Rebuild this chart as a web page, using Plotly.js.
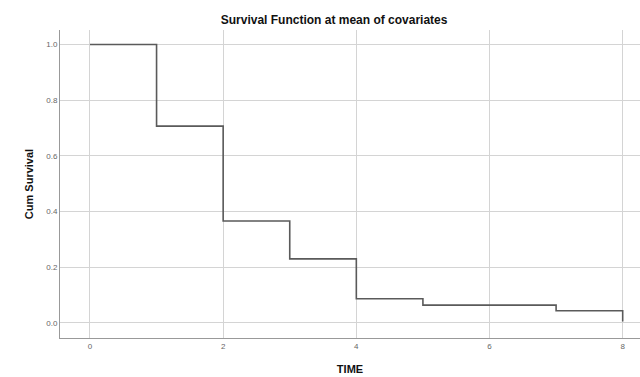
<!DOCTYPE html>
<html>
<head>
<meta charset="utf-8">
<script src="https://cdn.plot.ly/plotly-3.0.1.min.js"></script>
<style>html,body{margin:0;padding:0;background:#fff;}#chart{width:640px;height:377px;}</style>
</head>
<body>
<div id="chart"></div>
<script>
var times = [0, 1, 2, 3, 4, 5, 7, 8, 8];
var cumSurvival = [1.0, 0.707, 0.366, 0.23, 0.087, 0.064, 0.044, 0.044, 0.005];
var xTicks = [0, 2, 4, 6, 8];
var yTicks = [0.0, 0.2, 0.4, 0.6, 0.8, 1.0];

var trace = {
  x: times, y: cumSurvival, type: 'scatter', mode: 'lines',
  line: {shape: 'hv', color: '#5a5a5a', width: 1.6},
  hoverinfo: 'skip'
};
var layout = {
  width: 640, height: 377,
  margin: {l: 60, r: 0, t: 30, b: 39},
  paper_bgcolor: '#fff', plot_bgcolor: '#fff',
  showlegend: false,
  title: {text: 'Survival Function at mean of covariates', x: 0.522, xanchor: 'center', y: 0.947, yanchor: 'middle',
          font: {family: 'Liberation Sans, Arial, sans-serif', size: 12, color: '#111', weight: 'bold'}},
  xaxis: {
    range: [-0.45, 8.26], tickvals: xTicks, ticktext: xTicks.map(String),
    showgrid: true, gridcolor: '#d4d4d4', gridwidth: 1,
    showline: true, linecolor: '#999', linewidth: 1, zeroline: false,
    ticks: '', tickfont: {family: 'Liberation Sans, Arial, sans-serif', size: 8, color: '#666'},
    title: {text: 'TIME', standoff: 15, font: {family: 'Liberation Sans, Arial, sans-serif', size: 11, color: '#111', weight: 'bold'}}
  },
  yaxis: {
    range: [-0.054, 1.052], tickvals: yTicks, ticktext: yTicks.map(function(v){return v.toFixed(1);}),
    showgrid: true, gridcolor: '#d4d4d4', gridwidth: 1,
    showline: true, linecolor: '#999', linewidth: 1, zeroline: false,
    ticks: '', ticklen: 0, tickfont: {family: 'Liberation Sans, Arial, sans-serif', size: 8, color: '#666'},
    title: {text: 'Cum Survival', standoff: 10, font: {family: 'Liberation Sans, Arial, sans-serif', size: 11, color: '#111', weight: 'bold'}}
  }
};
Plotly.newPlot('chart', [trace], layout, {staticPlot: true, displayModeBar: false});
</script>
</body>
</html>
